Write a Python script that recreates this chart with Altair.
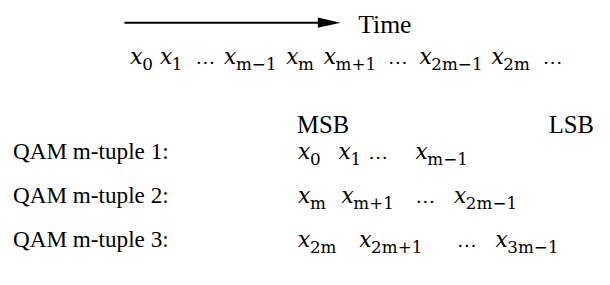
import altair as alt
import pandas as pd

# ---- content -------------------------------------------------------------
header_text = ["Time"]
bit_labels = ["MSB", "LSB"]
row_labels = ["QAM m-tuple 1:", "QAM m-tuple 2:", "QAM m-tuple 3:"]
stream_subs = ["0", "1", "…", "m−1", "m", "m+1", "…", "2m−1", "2m", "…"]
tuple_subs = [
    ["0", "1", "…", "m−1"],
    ["m", "m+1", "…", "2m−1"],
    ["2m", "2m+1", "…", "3m−1"],
]

# ---- layout (page pixel coordinates) --------------------------------------
arrow_x = [126, 326]
arrow_y = 21
arrow_tip = 345
header_pos = (363, 31)
bit_x = [301, 556]
bit_y = 133
label_x = 13
stream_x = [132, 162, 198, 227, 290, 328, 393, 425, 498, 550]
stream_y = 63
row_y = [159, 204, 248]
tuple_x = [
    [302, 343, 373, 421],
    [302, 346, 421, 460],
    [302, 364, 463, 502],
]
sub_dx = 12
sub_dy = 6

# ---- build tables ---------------------------------------------------------
header, bits, labels, xs, subs, dots = [], [], [], [], [], []
header.append({"x": header_pos[0], "y": header_pos[1], "t": header_text[0]})
for bx, t in zip(bit_x, bit_labels):
    bits.append({"x": bx, "y": bit_y, "t": t})
for ry, t in zip(row_y, row_labels):
    labels.append({"x": label_x, "y": ry, "t": t})


def add_seq(xpos, ypos, items):
    for px, s in zip(xpos, items):
        if s == "…":
            dots.append({"x": px, "y": ypos, "t": "…"})
        else:
            xs.append({"x": px, "y": ypos, "t": "x"})
            subs.append({"x": px + sub_dx, "y": ypos + sub_dy, "t": s})


add_seq(stream_x, stream_y, stream_subs)
for xp, ry, items in zip(tuple_x, row_y, tuple_subs):
    add_seq(xp, ry, items)

xsc = alt.Scale(domain=[8, 610], nice=False, zero=False)
ysc = alt.Scale(domain=[8, 285], nice=False, zero=False, reverse=True)
X = alt.X("x:Q", scale=xsc, axis=None)
Y = alt.Y("y:Q", scale=ysc, axis=None)


def text_layer(rows, font, size, style="normal"):
    return alt.Chart(pd.DataFrame(rows)).mark_text(
        font=font, fontSize=size, fontStyle=style, align="left",
        baseline="alphabetic", color="black"
    ).encode(x=X, y=Y, text="t:N")


line_df = pd.DataFrame({"x": [arrow_x[0]], "x2": [arrow_x[1]], "y": [arrow_y]})
line = alt.Chart(line_df).mark_rule(color="black", strokeWidth=2).encode(
    x=X, x2="x2:Q", y=Y
)
head_df = pd.DataFrame({"x": [arrow_tip - 11.5], "y": [arrow_y]})
head = alt.Chart(head_df).mark_point(
    shape="M -1 -0.45 L 1 0 L -1 0.45 Z", filled=True, opacity=1,
    color="black", size=529, strokeWidth=0
).encode(x=X, y=Y)

chart = alt.layer(
    line,
    head,
    text_layer(header, "Liberation Serif", 26),
    text_layer(bits, "Liberation Serif", 25),
    text_layer(labels, "Liberation Serif", 23.5),
    text_layer(xs, "DejaVu Serif", 22, "italic"),
    text_layer(subs, "DejaVu Serif", 17),
    text_layer(dots, "Liberation Serif", 20),
).properties(
    width=602, height=277, padding=0, autosize=alt.AutoSizeParams(type="none")
).configure_view(stroke=None)

chart.save("out.html", embed_options={"renderer": "svg", "actions": False})
